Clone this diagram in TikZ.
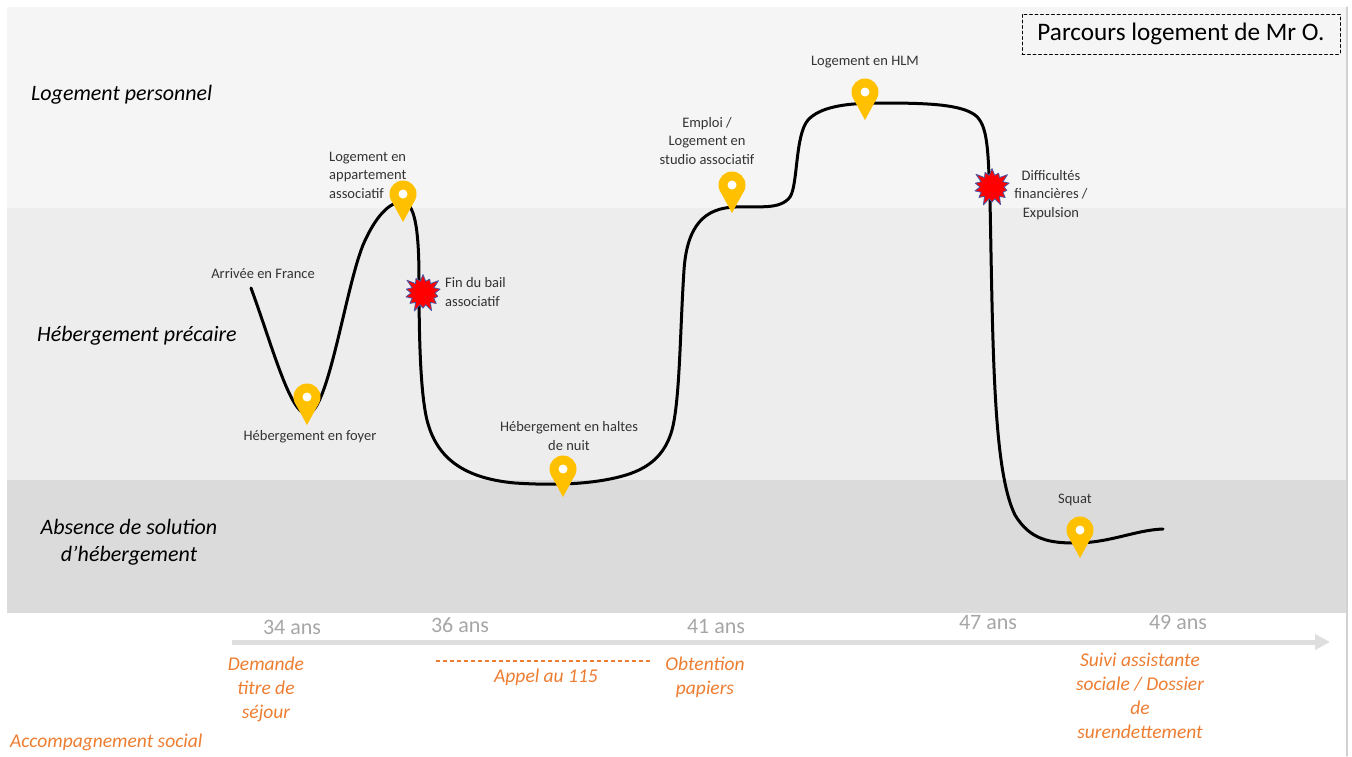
\documentclass[tikz,border=0pt]{standalone}
\usepackage{fontspec}
\setmainfont{Carlito}
\usetikzlibrary{arrows.meta}
\usetikzlibrary{shapes.symbols}
\usetikzlibrary{positioning}
\definecolor{bandtop}{HTML}{F5F5F5}
\definecolor{bandmid}{HTML}{EDEDED}
\definecolor{bandlow}{HTML}{DBDBDB}
\definecolor{pinyellow}{HTML}{FFC000}
\definecolor{orangelabel}{HTML}{ED7D31}
\definecolor{agegray}{HTML}{A6A6A6}
\definecolor{axisgray}{HTML}{DEDEDE}
\definecolor{textgray}{HTML}{333333}
\definecolor{burstblue}{HTML}{4A55A2}

\begin{document}
\begin{tikzpicture}[line cap=round,line join=round, x=1pt,y=-1pt,
	etape/.style={text=textgray, font=\fontsize{14.5}{18.5}\selectfont, align=center, inner sep=0pt},
	niveau/.style={font=\fontsize{22}{27}\selectfont\itshape, align=center, inner sep=0pt},
	age/.style={text=agegray, font=\fontsize{22}{26}\selectfont, inner sep=0pt},
	social/.style={text=orangelabel, font=\fontsize{19.5}{24}\selectfont\itshape, align=center, inner sep=0pt},
	choc/.style={starburst, starburst points=14, starburst point height=9pt, fill=red, draw=burstblue, line width=0.8pt, minimum width=42pt, minimum height=42pt, inner sep=0pt},
	trajet/.style={line width=3pt, black},
	repere/.pic={
		\fill[pinyellow] (0,0) -- (-12,-22) -- (12,-22) -- cycle;
		\fill[pinyellow] (0,-28) circle[radius=13.5];
		\fill[white] (0,-28) circle[radius=4.5];
	}]
	\useasboundingbox (0,0) rectangle (1352,756);
	% bandes
	\fill[bandtop] (7,7) rectangle (1347,208);
	\fill[bandmid] (7,208) rectangle (1347,480);
	\fill[bandlow] (7,480) rectangle (1347,613);
	\draw[line width=1.2pt, black!18] (1347,7) -- (1347,756);
	\node[niveau, anchor=west] (perso) at (31,95) {Logement personnel};
	\node[niveau, anchor=west] (precaire) at (37,336) {Hébergement précaire};
	\node[niveau] (absence) at (129,542) {Absence de solution\\d’hébergement};
	\node[draw, dashed, dash pattern=on 3pt off 2.5pt, line width=0.8pt, minimum width=318pt, minimum height=40pt, font=\fontsize{25.2}{28}\selectfont] (titre) at (1181,34) {Parcours logement de Mr O.};
	% axe des ages
	\coordinate (debut) at (232,642);
	\coordinate (fin) at (1330,642);
	\draw[line width=5pt, axisgray, line cap=butt, -{Triangle[length=15pt,width=15pt]}] (debut) -- (fin);
	\node[age] (a34) at (292,627) {34 ans};
	\node[age] (a36) at (460,625) {36 ans};
	\node[age] (a41) at (716,626) {41 ans};
	\node[age] (a47) at (988,623) {47 ans};
	\node[age] (a49) at (1178,622) {49 ans};
	% parcours
	\draw[trajet] (251,288) .. controls (272,345) and (290,414) .. (307,414)
		.. controls (328,414) and (345,290) .. (363,245)
		.. controls (376,215) and (390,202) .. (402,202)
		.. controls (414,202) and (419,225) .. (419,280)
		.. controls (419,330) and (420,380) .. (425,410)
		.. controls (432,455) and (460,478) .. (515,483)
		.. controls (545,485) and (580,485) .. (610,479)
		.. controls (640,473) and (663,462) .. (672,430)
		.. controls (680,400) and (680,330) .. (684,270)
		.. controls (687,225) and (705,208) .. (735,207)
		.. controls (760,206) and (780,210) .. (790,197)
		.. controls (798,185) and (795,135) .. (808,120)
		.. controls (820,107) and (845,103) .. (880,103)
		.. controls (925,103) and (960,104) .. (975,115)
		.. controls (988,125) and (988,150) .. (990,200)
		.. controls (993,350) and (993,470) .. (1015,515)
		.. controls (1030,540) and (1050,543) .. (1075,543)
		.. controls (1110,543) and (1135,530) .. (1163,529);
	% ruptures
	\node[choc] (bail) at (423,293) {};
	\node[choc] (expulsion) at (992,187) {};
	% etapes
	\coordinate (foyer) at (307,425);
	\coordinate (appart) at (403,222);
	\coordinate (haltes) at (563,497);
	\coordinate (studio) at (732,213);
	\coordinate (hlm) at (865,120);
	\coordinate (squat) at (1080,558);
	\foreach \p in {foyer,appart,haltes,studio,hlm,squat}
		\pic at (\p) {repere};
	\node[etape] (arrivee) at (263,274) {Arrivée en France};
	\node[etape] (lfoyer) at (310,437) {Hébergement en foyer};
	\node[etape, align=left, anchor=west] (lappart) at (329,175) {Logement en\\appartement\\associatif};
	\node[etape, align=left, anchor=west] (lbail) at (445,292) {Fin du bail\\associatif};
	\node[etape] (lhaltes) at (569,436) {Hébergement en haltes\\de nuit};
	\node[etape] (lstudio) at (707,141) {Emploi /\\Logement en\\studio associatif};
	\node[etape] (lhlm) at (865,62) {Logement en HLM};
	\node[etape] (lexpulsion) at (1051,195) {Difficultés\\financières /\\Expulsion};
	\node[etape] (lsquat) at (1075,500) {Squat};
	% accompagnement social
	\node[social] (titresejour) at (266,689) {Demande\\titre de\\séjour};
	\draw[orangelabel, line width=1.1pt, dash pattern=on 4pt off 3pt, line cap=butt] (436,661) -- (650,661);
	\node[social] (appel) at (546,677) {Appel au 115};
	\node[social] (papiers) at (705,677) {Obtention\\papiers};
	\node[social] (suivi) at (1140,696) {Suivi assistante\\sociale / Dossier\\de\\surendettement};
	\node[social, anchor=west] (accomp) at (10,742) {Accompagnement social};
\end{tikzpicture}
\end{document}
